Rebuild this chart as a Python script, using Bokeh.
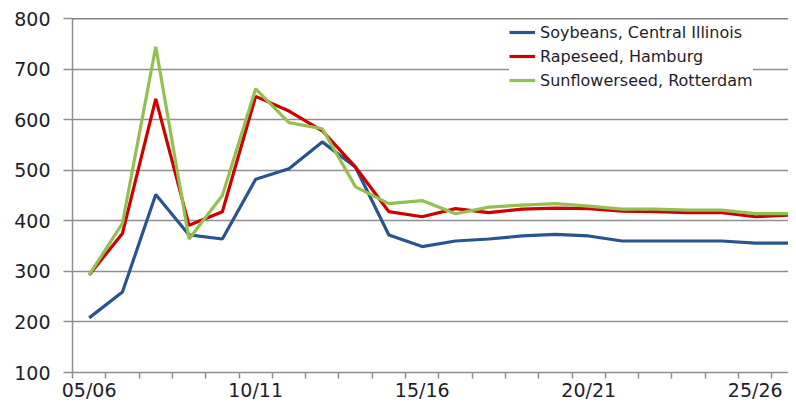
from bokeh.plotting import figure
from bokeh.models import (ColumnDataSource, FixedTicker, Range1d, Span, Legend, LegendItem)
from bokeh.embed import file_html
from bokeh.resources import INLINE

seasons = ["05/06", "06/07", "07/08", "08/09", "09/10", "10/11", "11/12", "12/13",
           "13/14", "14/15", "15/16", "16/17", "17/18", "18/19", "19/20", "20/21",
           "21/22", "22/23", "23/24", "24/25", "25/26", "26/27"]
soybeans = [208, 259, 452, 372, 364, 482, 503, 556, 506, 372, 349, 360, 364, 370,
            373, 370, 360, 360, 360, 360, 356, 356]
rapeseed = [293, 375, 641, 391, 418, 646, 617, 578, 506, 418, 408, 424, 416, 423,
            425, 424, 419, 418, 416, 416, 408, 411]
sunflower = [293, 395, 744, 364, 450, 661, 594, 582, 467, 434, 440, 414, 427, 431,
             434, 429, 423, 423, 421, 421, 414, 414]
series_names = ["Soybeans, Central Illinois", "Rapeseed, Hamburg", "Sunflowerseed, Rotterdam"]
series_colors = ["#2a5490", "#d00000", "#92c150"]
labelled_seasons = ["05/06", "10/11", "15/16", "20/21", "25/26"]
y_ticks = [100, 200, 300, 400, 500, 600, 700, 800]

xs = list(range(len(seasons)))
src = ColumnDataSource(dict(x=xs, soy=soybeans, rape=rapeseed, sun=sunflower))

FONT = "DejaVu Sans"
TXT = "#1e1e2a"
GRAY = "#8f8f8f"

p = figure(width=788, height=403, output_backend="svg", toolbar_location=None,
           x_range=Range1d(-0.5, 21.0), y_range=Range1d(100, 800),
           min_border_left=72, min_border_right=0, min_border_top=18, min_border_bottom=28)
p.outline_line_color = None
p.background_fill_color = "white"
p.border_fill_color = "white"

renderers = []
for key, name, col in zip(["soy", "rape", "sun"], series_names, series_colors):
    r = p.line("x", key, source=src, line_color=col, line_width=3.2)
    renderers.append((name, r))

# axes
p.xaxis.ticker = FixedTicker(ticks=[seasons.index(s) for s in labelled_seasons],
                             minor_ticks=[i - 0.5 for i in range(len(seasons) + 1)])
p.xaxis.major_label_overrides = {seasons.index(s): s for s in labelled_seasons}
p.xaxis.major_tick_line_color = None
p.xaxis.major_tick_out = 6
p.xaxis.major_tick_in = 0
p.xaxis.minor_tick_line_color = GRAY
p.xaxis.minor_tick_line_width = 1.5
p.xaxis.minor_tick_out = 6
p.xaxis.minor_tick_in = 0
p.xaxis.axis_line_color = GRAY
p.xaxis.axis_line_width = 1.5
p.xaxis.major_label_standoff = 0
p.xaxis.major_label_text_font = FONT
p.xaxis.major_label_text_font_size = "19px"
p.xaxis.major_label_text_line_height = 0.8
p.xaxis.major_label_text_color = TXT

p.yaxis.ticker = FixedTicker(ticks=y_ticks)
p.yaxis.minor_tick_line_color = None
p.yaxis.major_tick_line_color = GRAY
p.yaxis.major_tick_line_width = 1.5
p.yaxis.major_tick_out = 9
p.yaxis.major_tick_in = 0
p.yaxis.axis_line_color = GRAY
p.yaxis.axis_line_width = 1.5
p.yaxis.major_label_standoff = 13
p.yaxis.major_label_text_font = FONT
p.yaxis.major_label_text_font_size = "19px"
p.yaxis.major_label_text_color = TXT

p.xgrid.grid_line_color = None
p.ygrid.grid_line_color = GRAY
p.ygrid.grid_line_width = 1.3

p.add_layout(Span(location=800, dimension="width", line_color="black", line_width=1.5))

legend = Legend(items=[LegendItem(label=n, renderers=[r]) for n, r in renderers],
                location=(437, 282), border_line_color=None, background_fill_color="white",
                background_fill_alpha=1.0, padding=4, spacing=4, glyph_width=26,
                label_standoff=5, label_text_font=FONT, label_text_font_size="16px",
                label_text_color=TXT, margin=0)
p.add_layout(legend)

open("out.html", "w").write(file_html(p, INLINE))
